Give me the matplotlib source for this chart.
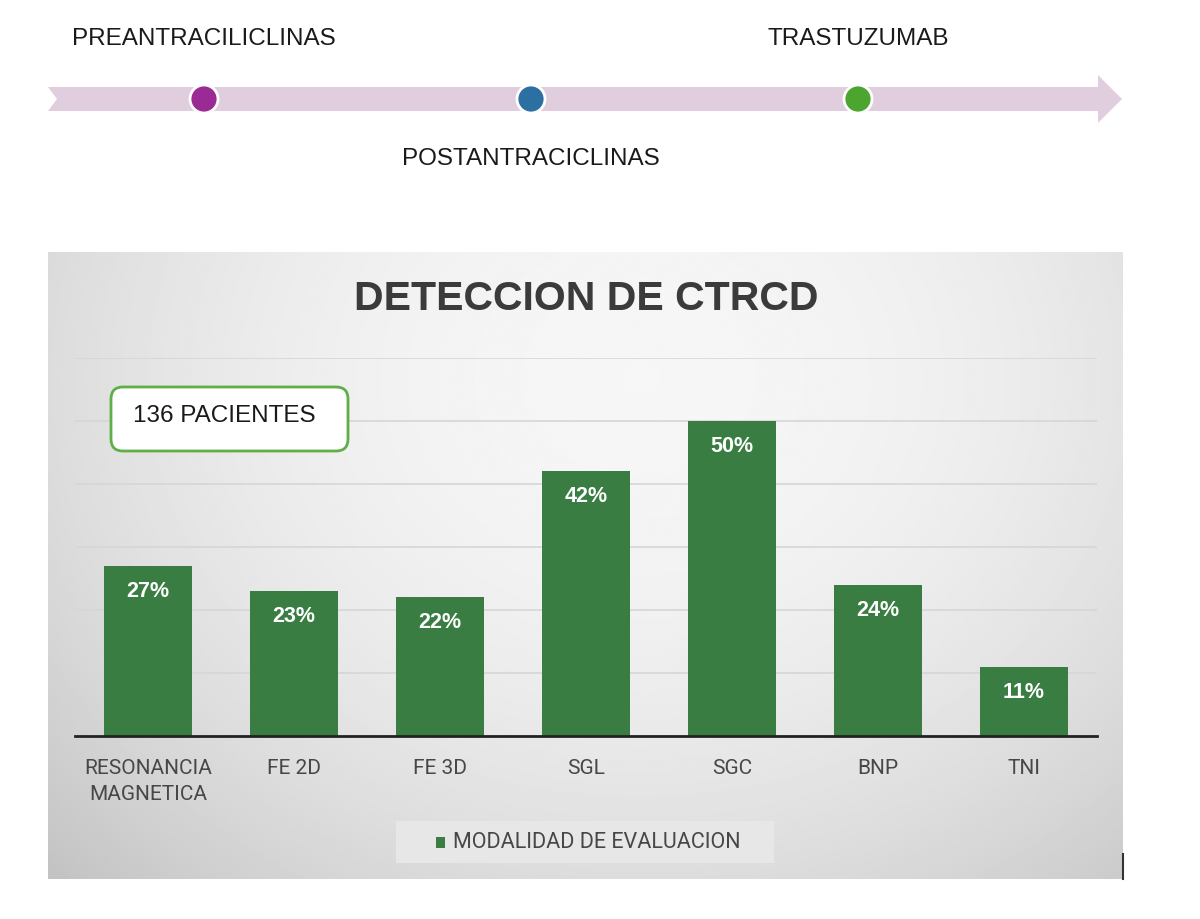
import numpy as np
import matplotlib
matplotlib.use("Agg")
import matplotlib.pyplot as plt
from matplotlib.patches import FancyBboxPatch, Polygon, Circle, Rectangle

# ---------------- data ----------------
categories = ["RESONANCIA\nMAGNETICA", "FE 2D", "FE 3D", "SGL", "SGC", "BNP", "TNI"]
values = [27, 23, 22, 42, 50, 24, 11]
value_labels = ["27%", "23%", "22%", "42%", "50%", "24%", "11%"]
series_name = "MODALIDAD DE EVALUACION"
chart_title = "DETECCION DE CTRCD"
note_text = "136 PACIENTES"
timeline_labels = ["PREANTRACILICLINAS", "POSTANTRACICLINAS", "TRASTUZUMAB"]
timeline_colors = ["#9c2a94", "#2b6fa3", "#4ca52f"]

W, H = 1200, 920
fig = plt.figure(figsize=(W / 100, H / 100), dpi=100)
fig.patch.set_facecolor("white")

def fx(px):
    return px / W

def fy(py):
    return 1 - py / H

# ---------------- panel background (gradient) ----------------
px0, px1, py0, py1 = 48, 1123, 253, 880
bg = fig.add_axes([fx(px0), fy(py1), fx(px1 - px0), (py1 - py0) / H])
ny, nx = 300, 500
yy, xx = np.mgrid[0:1:ny * 1j, 0:1:nx * 1j]
r2 = ((xx - 0.55) / 0.75) ** 2 + ((yy - 0.2) / 1.1) ** 2
g = np.clip(0.965 - 0.19 * r2, 0.76, 0.97)
bg.imshow(g, cmap="gray", vmin=0, vmax=1, aspect="auto", extent=[0, 1, 1, 0],
          interpolation="bilinear")
bg.set_xlim(0, 1)
bg.set_ylim(1, 0)
bg.axis("off")

# ---------------- bar chart ----------------
ax = fig.add_axes([fx(75), fy(737), fx(1097 - 75), (737 - 359) / H])
ax.set_facecolor("none")
x = np.arange(len(categories))
bars = ax.bar(x, values, width=0.6, color="#3a7d42", zorder=3)
ax.set_xlim(-0.5, len(categories) - 0.5)
ax.set_ylim(0, 60)
ax.set_yticks(np.arange(0, 61, 10))
ax.yaxis.grid(True, color="#d6d6d6", linewidth=1.2, zorder=0)
ax.tick_params(axis="y", left=False, labelleft=False)
ax.tick_params(axis="x", bottom=False, pad=12)
ax.set_xticks(x)
ax.set_xticklabels(categories, fontsize=15, color="#474747",
                   family="Roboto", linespacing=1.5)
for s in ["top", "right", "left"]:
    ax.spines[s].set_visible(False)
ax.spines["bottom"].set_color("#222222")
ax.spines["bottom"].set_linewidth(2)
ax.spines["bottom"].set_zorder(4)
for b, lab in zip(bars, value_labels):
    ax.annotate(lab, (b.get_x() + b.get_width() / 2, b.get_height()),
                xytext=(0, -17.5), textcoords="offset points",
                ha="center", va="center", color="white",
                fontsize=15.5, fontweight="bold", family="Liberation Sans", zorder=5)

# ---------------- overlay (pixel coordinates) ----------------
ov = fig.add_axes([0, 0, 1, 1])
ov.set_xlim(0, W)
ov.set_ylim(H, 0)
ov.axis("off")
ov.patch.set_alpha(0)

# title
ov.text(586, 299, chart_title, ha="center", va="center", fontsize=29.5,
        fontweight="bold", color="#3b3b3b", family="Liberation Sans")

# note box
ov.add_patch(FancyBboxPatch((111, 388), 237, 64,
                            boxstyle="round,pad=0,rounding_size=12",
                            fc="white", ec="#5fae48", lw=2, zorder=6))
ov.text(133, 416, note_text, ha="left", va="center", fontsize=17.5,
        color="#1a1a1a", family="Liberation Sans", zorder=7)

# legend box
ov.add_patch(Rectangle((396, 822), 378, 42, fc="#e7e7e7", ec="none", zorder=6))
ov.add_patch(Rectangle((436, 838), 9, 11, fc="#3a7d42", ec="none", zorder=7))
ov.text(453, 843, series_name, ha="left", va="center", fontsize=15.5,
        color="#474747", family="Roboto", zorder=7)

# small dark edge at panel right bottom
ov.plot([1123, 1123], [855, 880], color="#333333", lw=1.5)

# timeline arrow
arrow = Polygon([(48, 88), (1098, 88), (1098, 76), (1122, 100), (1098, 124),
                 (1098, 112), (48, 112), (57, 100)],
                closed=True, fc="#e0cedf", ec="none")
ov.add_patch(arrow)
dot_x = [204, 531, 858]
for cx, c in zip(dot_x, timeline_colors):
    ov.add_patch(Circle((cx, 100), 14, fc=c, ec="white", lw=2, zorder=5))
ov.text(dot_x[0], 39, timeline_labels[0], ha="center", va="center",
        fontsize=17.5, color="#1a1a1a", family="Liberation Sans")
ov.text(dot_x[1], 159, timeline_labels[1], ha="center", va="center",
        fontsize=17.5, color="#1a1a1a", family="Liberation Sans")
ov.text(dot_x[2], 39, timeline_labels[2], ha="center", va="center",
        fontsize=17.5, color="#1a1a1a", family="Liberation Sans")

fig.savefig("out.png", dpi=100)
